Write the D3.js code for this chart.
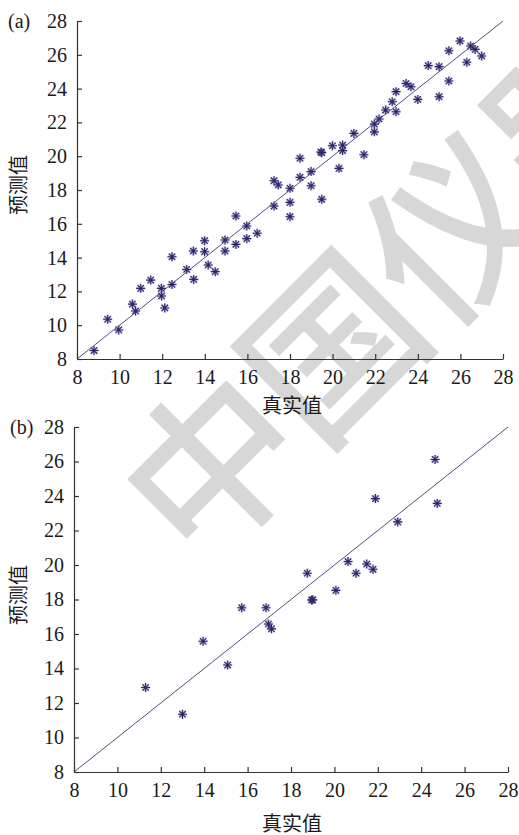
<!DOCTYPE html>
<html>
<head>
<meta charset="utf-8">
<script src="https://cdn.jsdelivr.net/npm/d3@7"></script>
<style>
    body { margin: 0; background: #fff; }
    svg { display: block; }
</style>
</head>
<body>
<svg id="chart" width="519" height="835"></svg>
<script>
// tick values shared by both panels
const TICKS = [8, 10, 12, 14, 16, 18, 20, 22, 24, 26, 28];
const DOMAIN = [8, 28];

// panel (a): true value, predicted value
const trueA = [8.8, 9.44, 9.96, 10.6, 10.75, 10.99, 11.46, 11.96, 11.97, 12.12,
    12.46, 12.46, 13.15, 13.46, 13.48, 13.99, 13.99, 14.16, 14.49, 14.95,
    14.95, 15.46, 15.46, 15.97, 15.97, 16.46, 17.25, 17.45, 17.25, 18.0,
    18.0, 18.0, 18.47, 18.47, 18.99, 18.99, 19.49, 19.45, 19.49, 19.99,
    20.3, 20.47, 20.47, 21.0, 21.47, 21.96, 21.96, 22.18, 22.49, 22.8,
    22.98, 22.98, 23.45, 23.68, 24.0, 24.49, 25.0, 25.0, 25.46, 25.46,
    25.98, 26.3, 26.48, 26.69, 27.0];
const predA = [8.5, 10.35, 9.72, 11.25, 10.84, 12.18, 12.67, 12.18, 11.73, 11.02,
    14.05, 12.41, 13.3, 14.39, 12.71, 15.0, 14.35, 13.56, 13.17, 15.04,
    14.39, 16.46, 14.78, 15.87, 15.12, 15.44, 18.55, 18.3, 17.05, 18.1,
    17.27, 16.42, 19.88, 18.75, 19.09, 18.25, 20.21, 20.25, 17.45, 20.62,
    19.28, 20.66, 20.33, 21.35, 20.09, 21.44, 21.9, 22.2, 22.73, 23.22,
    23.82, 22.63, 24.3, 24.11, 23.36, 25.36, 25.3, 23.52, 26.24, 24.45,
    26.82, 25.56, 26.52, 26.32, 25.93];

// panel (b): true value, predicted value
const trueB = [11.3, 13.0, 13.95, 15.08, 15.73, 16.85, 16.96, 17.1, 18.75, 18.95,
    19.0, 20.07, 20.63, 21.0, 21.49, 21.78, 21.89, 22.92, 24.64, 24.74];
const predB = [12.9, 11.35, 15.58, 14.2, 17.52, 17.52, 16.58, 16.3, 19.52, 17.97,
    17.98, 18.53, 20.2, 19.52, 20.06, 19.75, 23.85, 22.5, 26.12, 23.57];

// watermark glyphs and their centres
const markChars = ["中", "国", "仪", "器"];
const markPos = [[205, 458], [325, 340], [447, 222], [567, 104]];

const svg = d3.select("#chart");

// watermark behind everything
svg.selectAll(".mark")
    .data(markChars)
    .enter()
    .append("text")
    .attr("class", "mark")
    .attr("transform", (d, i) => `translate(${markPos[i][0]},${markPos[i][1]}) rotate(-45)`)
    .attr("text-anchor", "middle")
    .attr("dominant-baseline", "central")
    .style("font-family", "'Noto Sans CJK SC'")
    .style("font-weight", 500)
    .style("font-size", "172px")
    .style("fill", "#d7d7d7")
    .text((d) => d);

const STAR = "M-4.5,0H4.5M0,-4.5V4.5M-3.2,-3.2L3.2,3.2M-3.2,3.2L3.2,-3.2";

function drawPanel(box, xs, ys, tag) {
    const x = d3.scaleLinear().domain(DOMAIN).range([box.left, box.right]),
        y = d3.scaleLinear().domain(DOMAIN).range([box.bottom, box.top]);
    const g = svg.append("g");

    // y = x reference line
    g.append("line")
        .attr("x1", x(DOMAIN[0]))
        .attr("y1", y(DOMAIN[0]))
        .attr("x2", x(DOMAIN[1]))
        .attr("y2", y(DOMAIN[1]))
        .style("stroke", "#5a4a80")
        .style("stroke-width", 1);

    const xAxis = g.append("g")
        .attr("transform", `translate(0,${box.bottom})`)
        .call(d3.axisBottom(x).tickValues(TICKS).tickSize(-5).tickSizeOuter(0).tickPadding(11));
    const yAxis = g.append("g")
        .attr("transform", `translate(${box.left},0)`)
        .call(d3.axisLeft(y).tickValues(TICKS).tickSize(-5).tickSizeOuter(0).tickPadding(10));

    [xAxis, yAxis].forEach((a) => {
        a.selectAll("path, line").style("stroke", "#333").style("stroke-width", 1.2);
        a.selectAll("text")
            .style("font-family", "'Liberation Serif', 'Times New Roman', serif")
            .style("font-size", "20px")
            .style("fill", "#1a1a1a");
    });

    const pts = xs.map((v, i) => [v, ys[i]]);

    // soft halo then the star itself
    g.selectAll(".halo")
        .data(pts)
        .enter()
        .append("path")
        .attr("d", STAR)
        .attr("transform", (d) => `translate(${x(d[0])},${y(d[1])})`)
        .style("stroke", "#9a9ad6")
        .style("stroke-width", 2.4)
        .style("opacity", 0.55)
        .style("fill", "none");
    g.selectAll(".star")
        .data(pts)
        .enter()
        .append("path")
        .attr("d", STAR)
        .attr("transform", (d) => `translate(${x(d[0])},${y(d[1])})`)
        .style("stroke", "#2c2868")
        .style("stroke-width", 1.1)
        .style("fill", "none");

    const serif = "'Liberation Serif', 'Times New Roman', serif",
        cjk = "'Noto Sans CJK SC'";

    g.append("text")
        .attr("x", box.tagX)
        .attr("y", box.tagY)
        .style("font-family", serif)
        .style("font-size", "20px")
        .style("fill", "#1a1a1a")
        .text(tag);

    g.append("text")
        .attr("transform", `translate(17,${box.yLabel}) rotate(-90)`)
        .attr("text-anchor", "middle")
        .attr("dominant-baseline", "central")
        .style("font-family", cjk)
        .style("font-size", "20px")
        .style("fill", "#1a1a1a")
        .text("预测值");

    g.append("text")
        .attr("x", 292)
        .attr("y", box.xLabel)
        .attr("text-anchor", "middle")
        .attr("dominant-baseline", "central")
        .style("font-family", cjk)
        .style("font-size", "20px")
        .style("fill", "#1a1a1a")
        .text("真实值");
}

drawPanel({left: 77, right: 503, top: 21, bottom: 359, tagX: 8, tagY: 28, yLabel: 185, xLabel: 404},
    trueA, predA, "(a)");
drawPanel({left: 74, right: 508, top: 427, bottom: 772, tagX: 10, tagY: 434, yLabel: 595, xLabel: 822},
    trueB, predB, "(b)");
</script>
</body>
</html>
